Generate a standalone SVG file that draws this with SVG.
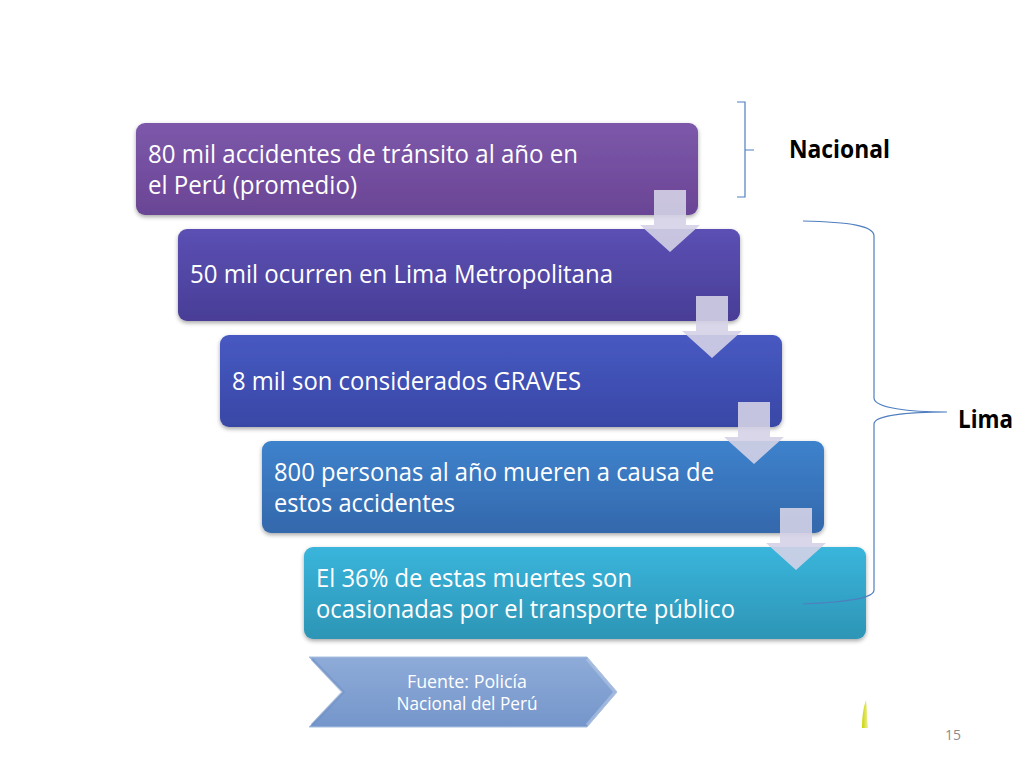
<svg xmlns="http://www.w3.org/2000/svg" width="1024" height="768" viewBox="0 0 1024 768">
<defs>
<linearGradient id="g1" x1="0" y1="0" x2="0" y2="1"><stop offset="0" stop-color="#7d58aa"/><stop offset="1" stop-color="#6a4595"/></linearGradient>
<linearGradient id="g2" x1="0" y1="0" x2="0" y2="1"><stop offset="0" stop-color="#5c50b4"/><stop offset="1" stop-color="#483d96"/></linearGradient>
<linearGradient id="g3" x1="0" y1="0" x2="0" y2="1"><stop offset="0" stop-color="#4759c2"/><stop offset="1" stop-color="#3947a6"/></linearGradient>
<linearGradient id="g4" x1="0" y1="0" x2="0" y2="1"><stop offset="0" stop-color="#3d82cc"/><stop offset="1" stop-color="#3468ac"/></linearGradient>
<linearGradient id="g5" x1="0" y1="0" x2="0" y2="1"><stop offset="0" stop-color="#3ab5dc"/><stop offset="1" stop-color="#2d95b5"/></linearGradient>
<linearGradient id="gc" x1="0" y1="0" x2="0" y2="1"><stop offset="0" stop-color="#8eabd8"/><stop offset="1" stop-color="#7596cb"/></linearGradient>
<linearGradient id="gy" x1="0" y1="0" x2="1" y2="0"><stop offset="0" stop-color="#c8d400"/><stop offset="1" stop-color="#f0f0a0"/></linearGradient>
<filter id="sh" x="-5%" y="-10%" width="110%" height="130%"><feDropShadow dx="0" dy="2" stdDeviation="2" flood-color="#000" flood-opacity="0.35"/></filter>
</defs>
<style>
.t{font-family:"Open Sans","Noto Sans","Liberation Sans",sans-serif;font-size:25px;fill:#ffffff}
.lbl{font-family:"Open Sans","Noto Sans","Liberation Sans",sans-serif;font-size:25px;font-weight:bold;fill:#000}
.arr{fill:#d4d2e6;fill-opacity:0.9}
.br{fill:none;stroke:#4f7fbf;stroke-width:1.2}
.src{font-family:"Open Sans","Noto Sans","Liberation Sans",sans-serif;font-size:18px;fill:#ffffff}
</style>
<rect width="1024" height="768" fill="#ffffff"/>
<g id="box1"><rect x="136" y="123" width="562" height="92" rx="9" fill="url(#g1)" filter="url(#sh)"/>
<text class="t" x="148" y="163" textLength="430" lengthAdjust="spacingAndGlyphs">80 mil accidentes de tránsito al año en</text>
<text class="t" x="148" y="194" textLength="209" lengthAdjust="spacingAndGlyphs">el Perú (promedio)</text></g>
<g id="box2"><rect x="178" y="229" width="562" height="92" rx="9" fill="url(#g2)" filter="url(#sh)"/>
<text class="t" x="190" y="283" textLength="423" lengthAdjust="spacingAndGlyphs">50 mil ocurren en Lima Metropolitana</text></g>
<g id="box3"><rect x="220" y="335" width="562" height="92" rx="9" fill="url(#g3)" filter="url(#sh)"/>
<text class="t" x="232" y="390" textLength="349" lengthAdjust="spacingAndGlyphs">8 mil son considerados GRAVES</text></g>
<g id="box4"><rect x="262" y="441" width="562" height="92" rx="9" fill="url(#g4)" filter="url(#sh)"/>
<text class="t" x="274" y="481" textLength="440" lengthAdjust="spacingAndGlyphs">800 personas al año mueren a causa de</text>
<text class="t" x="274" y="512" textLength="181" lengthAdjust="spacingAndGlyphs">estos accidentes</text></g>
<g id="box5"><rect x="304" y="547" width="562" height="92" rx="9" fill="url(#g5)" filter="url(#sh)"/>
<text class="t" x="316" y="587" textLength="316" lengthAdjust="spacingAndGlyphs">El 36% de estas muertes son</text>
<text class="t" x="316" y="618" textLength="419" lengthAdjust="spacingAndGlyphs">ocasionadas por el transporte público</text></g>
<g id="connectors">
<path class="arr" d="M654 190 H686 V225 H700 L670 252 L640 225 H654 Z"/>
<path class="arr" d="M696 296 H728 V331 H742 L712 358 L682 331 H696 Z"/>
<path class="arr" d="M738 402 H770 V437 H784 L754 464 L724 437 H738 Z"/>
<path class="arr" d="M780 508 H812 V543 H826 L796 570 L766 543 H780 Z"/>
</g>
<g id="brace-nacional">
<path class="br" d="M737 102 H745 V197 H737 M745 150 H754"/>
<text class="lbl" x="789" y="158" textLength="101" lengthAdjust="spacingAndGlyphs">Nacional</text>
</g>
<g id="brace-lima">
<path class="br" d="M803 221 C850 222 874 226 874 236 V398 C874 408 910 412 947 412 C910 412 874 415 874 424 V590 C874 598 850 602 803 604"/>
<text class="lbl" x="958" y="428" textLength="55" lengthAdjust="spacingAndGlyphs">Lima</text>
</g>
<g id="source">
<path d="M309 657 H587 L617 692 L587 727 H309 L343 692 Z" fill="url(#gc)" stroke="#a8bee0" stroke-width="1"/>
<path d="M312 659 L343 692 L312 725" fill="none" stroke="#6a8cc2" stroke-width="3" stroke-opacity="0.5"/>
<path d="M587 659 L615 692 L587 725" fill="none" stroke="#b5c8e6" stroke-width="3" stroke-opacity="0.6"/>
<text class="src" x="467" y="688" text-anchor="middle" textLength="120" lengthAdjust="spacingAndGlyphs">Fuente: Policía</text>
<text class="src" x="467" y="710" text-anchor="middle" textLength="141" lengthAdjust="spacingAndGlyphs">Nacional del Perú</text>
</g>
<path d="M866 700 C863 708 862 718 862 728 H868 C867 718 867 708 866 700 Z" fill="url(#gy)"/>
<text x="953" y="740" text-anchor="middle" font-family="Open Sans, Noto Sans, Liberation Sans, sans-serif" font-size="14" fill="#8c8c8c">15</text>
</svg>
